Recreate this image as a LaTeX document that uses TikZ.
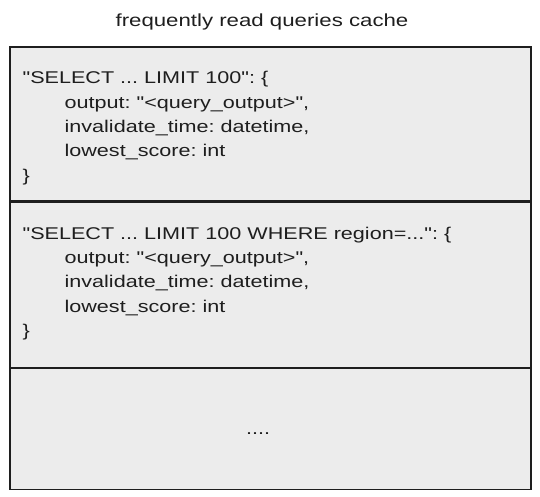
\documentclass[tikz,border=0pt]{standalone}
\usepackage{fontspec}
\newfontfamily\sketchfont[FakeStretch=1.27]{Liberation Sans}
\usetikzlibrary{positioning}

\definecolor{cellfill}{HTML}{ECECEC}
\definecolor{ink}{HTML}{1E1E1E}

\begin{document}
\frenchspacing
\begin{tikzpicture}[x=1pt, y=-1pt, node distance = 0pt,
  cell/.style = {draw = ink, fill = cellfill, line width = 1.2pt, minimum width = 521pt},
  entry/.style = {inner sep = 0pt, align = left, text = ink,
                  font = \sketchfont\fontsize{17}{24.3}\selectfont},
  heading/.style = {text = ink, font = \sketchfont\fontsize{17.5}{20}\selectfont}]
\useasboundingbox (0,0) rectangle (540,497);
\node[heading] (title) at (262,22) {frequently read queries cache};
% the three cache slots
\node[cell, minimum height = 154pt] (entryA) at (270.5,124) {};
\node[cell, minimum height = 165pt, below = of entryA] (entryB) {};
\node[cell, minimum height = 121pt, below = of entryB] (rest) {};
\draw[ink, line width = 2.2pt] (entryA.south west) -- (entryA.south east);
\draw[ink, line width = 2.2pt] (entryB.south west) -- (entryB.south east);
% cached entries
\node[entry, below right = 25pt and 13pt of entryA.north west] (entryAtext) {"SELECT ... LIMIT 100": \{\\
\hspace*{42pt}output: "<query\_output>",\\
\hspace*{42pt}invalidate\_time: datetime,\\
\hspace*{42pt}lowest\_score: int\\
\}};
\node[entry, below right = 25pt and 13pt of entryB.north west] (entryBtext) {"SELECT ... LIMIT 100 WHERE region=...": \{\\
\hspace*{42pt}output: "<query\_output>",\\
\hspace*{42pt}invalidate\_time: datetime,\\
\hspace*{42pt}lowest\_score: int\\
\}};
\node[entry, anchor = base] (gap) at (258,434) {....};
\end{tikzpicture}
\end{document}
